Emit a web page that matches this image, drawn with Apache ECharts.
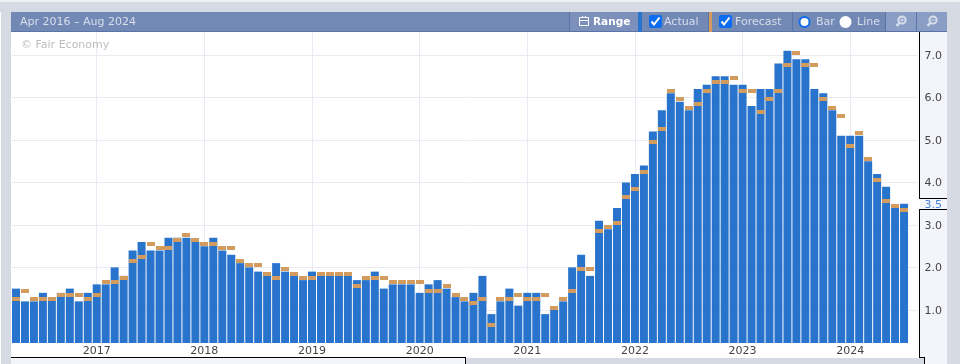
<!DOCTYPE html>
<html>
<head>
<meta charset="utf-8">
<style>html,body{margin:0;padding:0;background:#fff}#c{width:960px;height:364px}</style>
<script src="https://cdn.jsdelivr.net/npm/echarts@6/dist/echarts.min.js"></script>
</head>
<body>
<div id="c"></div>
<script>
const actual = [1.5,1.2,1.2,1.4,1.3,1.4,1.5,1.2,1.4,1.6,
  1.6,2.0,1.8,2.4,2.6,2.4,2.4,2.7,2.7,2.7,
  2.6,2.5,2.7,2.4,2.3,2.1,2.0,1.9,1.8,2.1,
  1.9,1.8,1.7,1.9,1.8,1.8,1.8,1.8,1.7,1.7,
  1.9,1.5,1.6,1.6,1.6,1.4,1.6,1.7,1.5,1.3,
  1.2,1.4,1.8,0.9,1.2,1.5,1.1,1.4,1.4,0.9,
  1.0,1.2,2.0,2.3,1.8,3.1,2.9,3.4,4.0,4.2,
  4.4,5.2,5.7,6.1,5.9,5.7,6.2,6.3,6.5,6.5,
  6.3,6.3,5.8,6.2,6.2,6.8,7.1,6.9,6.9,6.2,
  6.1,5.7,5.1,5.1,5.1,4.5,4.2,3.9,3.4,3.5,null];
const forecast = [1.3,1.5,1.3,1.3,1.3,1.4,1.4,1.4,1.3,1.4,
  1.7,1.7,1.8,2.2,2.3,2.6,2.5,2.5,2.7,2.8,
  2.7,2.6,2.6,2.5,2.5,2.2,2.1,2.1,1.9,1.8,
  2.0,1.9,1.8,1.8,1.9,1.9,1.9,1.9,1.6,1.8,
  1.8,1.8,1.7,1.7,1.7,1.7,1.5,1.5,1.6,1.4,
  1.3,1.2,1.3,0.7,1.3,1.3,1.4,1.3,1.3,1.4,
  1.1,1.3,1.5,2.0,2.0,2.9,3.0,3.1,3.7,3.9,
  4.3,5.0,5.3,6.2,6.0,5.8,5.9,6.2,6.4,6.4,
  6.5,6.2,6.2,5.7,6.0,6.2,6.8,7.1,6.8,6.8,
  6.0,5.8,5.6,4.9,5.2,4.6,4.1,3.6,3.5,3.4,null];
const yTicks = [1,2,3,4,5,6,7];
const latest = 3.5;
const months = [];
for (let y = 2016, m = 4; months.length < actual.length; m++) {
  if (m > 12) { m = 1; y++; }
  months.push(y + '-' + String(m).padStart(2, '0'));
}
const isJan = (i) => months[i].endsWith('-01');

const FONT = '"DejaVu Sans"';
const BLUE = '#2874cc', ORANGE = '#d39b5d';
const GRAY = '#d6dae3', PANEL = '#f4f5fa', HEAD = '#7389b5', HEADTXT = '#d8deeb', LINE = '#000';
const r = (x, y, w, h, fill, z) => ({type:'rect', silent:true, z:z, shape:{x, y, width:w, height:h}, style:{fill}});
const t = (x, y, text, fill, extra) => ({type:'text', silent:true, z:110, x, y,
  style:Object.assign({text, fill, font:'11px ' + FONT, verticalAlign:'middle', textAlign:'left'}, extra||{})});
const seg = (x1, y1, x2, y2, stroke, w, z) => ({type:'line', silent:true, z:z||105, shape:{x1, y1, x2, y2}, style:{stroke, lineWidth:w||1}});

const checkbox = (x) => [
  {type:'rect', silent:true, z:108, shape:{x, y:15, width:13, height:13, r:2}, style:{fill:'#0b6cf0'}},
  {type:'polyline', silent:true, z:109, shape:{points:[[x+2.5,21.5],[x+5,24.5],[x+10.5,17.5]]}, style:{stroke:'#fff', lineWidth:2, fill:null}}
];
const magnifier = (cx, plus) => {
  const a = [
    {type:'circle', silent:true, z:108, shape:{cx:cx+1, cy:20, r:3.6}, style:{stroke:'#d8deeb', lineWidth:2, fill:null}},
    seg(cx-1.5, 22.8, cx-4.5, 25.8, '#d8deeb', 2.4, 108)
  ];
  if (plus) a.push(seg(cx-0.8, 20, cx+2.8, 20, '#d8deeb', 1, 109), seg(cx+1, 18.2, cx+1, 21.8, '#d8deeb', 1, 109));
  else a.push(seg(cx-0.8, 20, cx+2.8, 20, '#d8deeb', 1, 109));
  return a;
};

const chrome = [
  r(920, 32, 27, 332, PANEL, -5),
  r(11, 358, 455, 6, PANEL, 100),
  r(920, 358, 27, 6, PANEL, 100),
  r(0, 0, 960, 2, '#eef0f4', 100),
  r(0, 2, 960, 10, GRAY, 100),
  r(1, 2, 10, 362, GRAY, 100),
  r(947, 2, 13, 362, GRAY, 100),
  r(466, 358, 458, 6, GRAY, 100),
  seg(919.5, 32, 919.5, 198, LINE),
  seg(919.5, 209, 919.5, 357, LINE),
  seg(919, 198.5, 947, 198.5, LINE),
  seg(919, 209.5, 947, 209.5, LINE),
  seg(11, 357.5, 466, 357.5, LINE),
  seg(465.5, 357, 465.5, 364, LINE),
  seg(919, 357.5, 925, 357.5, LINE),
  seg(924.5, 357, 924.5, 364, LINE),
  r(11, 12, 936, 20, HEAD, 101),
  seg(11, 31.5, 947, 31.5, '#5a74a8', 1, 102),
  r(570, 12, 68, 19, '#7c90bb', 102),
  r(886, 12, 30, 19, '#8a9dc4', 102),
  r(917, 12, 30, 19, '#8a9dc4', 102),
  seg(569.5, 12, 569.5, 31, '#5a74a8', 1, 103),
  r(638, 12, 4, 20, '#2874cc', 103),
  seg(708.5, 12, 708.5, 31, '#5a74a8', 1, 103),
  r(709, 12, 3, 20, ORANGE, 103),
  seg(792.5, 12, 792.5, 31, '#5a74a8', 1, 103),
  seg(885.5, 12, 885.5, 31, '#5a74a8', 1, 103),
  seg(916.5, 12, 916.5, 31, '#5a74a8', 1, 103),
  t(20, 22, 'Apr 2016 \u2013 Aug 2024', HEADTXT),
  t(21, 45, '\u00a9 Fair Economy', '#bdbdbd'),
  {type:'rect', silent:true, z:108, shape:{x:579.5, y:17.5, width:9, height:8}, style:{stroke:'#fff', lineWidth:1, fill:null}},
  seg(580, 20.5, 588, 20.5, '#fff', 1, 108),
  seg(582.5, 16, 582.5, 18, '#fff', 1, 108),
  seg(585.5, 16, 585.5, 18, '#fff', 1, 108),
  t(593, 22, 'Range', '#fff', {font:'bold 10.5px ' + FONT}),
  ...checkbox(649),
  t(664, 22, 'Actual', HEADTXT),
  ...checkbox(719),
  t(735, 22, 'Forecast', HEADTXT),
  {type:'circle', silent:true, z:108, shape:{cx:804.5, cy:22, r:5}, style:{fill:'#fff', stroke:'#0b6cf0', lineWidth:2}},
  t(816, 22, 'Bar', HEADTXT),
  {type:'circle', silent:true, z:108, shape:{cx:845.5, cy:22, r:6}, style:{fill:'#fff'}},
  t(857, 22, 'Line', HEADTXT),
  ...magnifier(901, true),
  ...magnifier(932, false)
];

const forecastPoints = forecast.map((v, i) => [i, v]).filter((d) => d[1] !== null);

const chart = echarts.init(document.getElementById('c'), null, {renderer:'canvas'});
chart.setOption({
  animation:false,
  backgroundColor:'#fff',
  textStyle:{fontFamily:FONT},
  grid:{left:11.5, right:960-917.5, top:32, bottom:364-343, containLabel:false},
  xAxis:{
    type:'category', data:months, boundaryGap:true,
    axisLine:{show:false},
    axisTick:{show:false, alignWithLabel:true},
    splitLine:{show:true, alignWithLabel:true, interval:(i)=>isJan(i), lineStyle:{color:'#e9eaf3', width:1}},
    axisLabel:{interval:(i)=>isJan(i), formatter:(v)=>v.slice(0,4), color:'#444', fontSize:11, fontFamily:FONT, margin:3}
  },
  yAxis:{
    type:'value', position:'right', min:0.22, max:7.54,
    axisLine:{show:false},
    axisTick:{show:false, customValues:yTicks},
    splitLine:{show:true, lineStyle:{color:'#e9eaf3', width:1}},
    axisLabel:{
      customValues:yTicks.concat([latest]),
      formatter:(v)=>{
        const n = Number(v);
        return (n === latest ? '{h|' : '{n|') + n.toFixed(1) + '}';
      },
      rich:{
        n:{color:'#444', fontSize:11, fontFamily:FONT, padding:[2,0,0,0]},
        h:{color:'#4a86d8', fontSize:11, fontFamily:FONT, padding:[2,0,0,0]}
      },
      margin:7, hideOverlap:false, showMinLabel:true, showMaxLabel:true
    }
  },
  series:[
    {type:'bar', name:'Actual', data:actual, barWidth:8, itemStyle:{color:BLUE}, silent:true, z:2},
    {type:'custom', name:'Forecast', data:forecastPoints, encode:{x:0, y:1}, silent:true, z:3, clip:true,
     renderItem:(params, api)=>{
       const p = api.coord([api.value(0), api.value(1)]);
       return {type:'rect',
         shape:{x:Math.round(p[0]-4), y:Math.round(p[1]), width:8, height:4},
         style:{fill:ORANGE}};
     }}
  ],
  graphic:{elements:chrome}
});
</script>
</body>
</html>
